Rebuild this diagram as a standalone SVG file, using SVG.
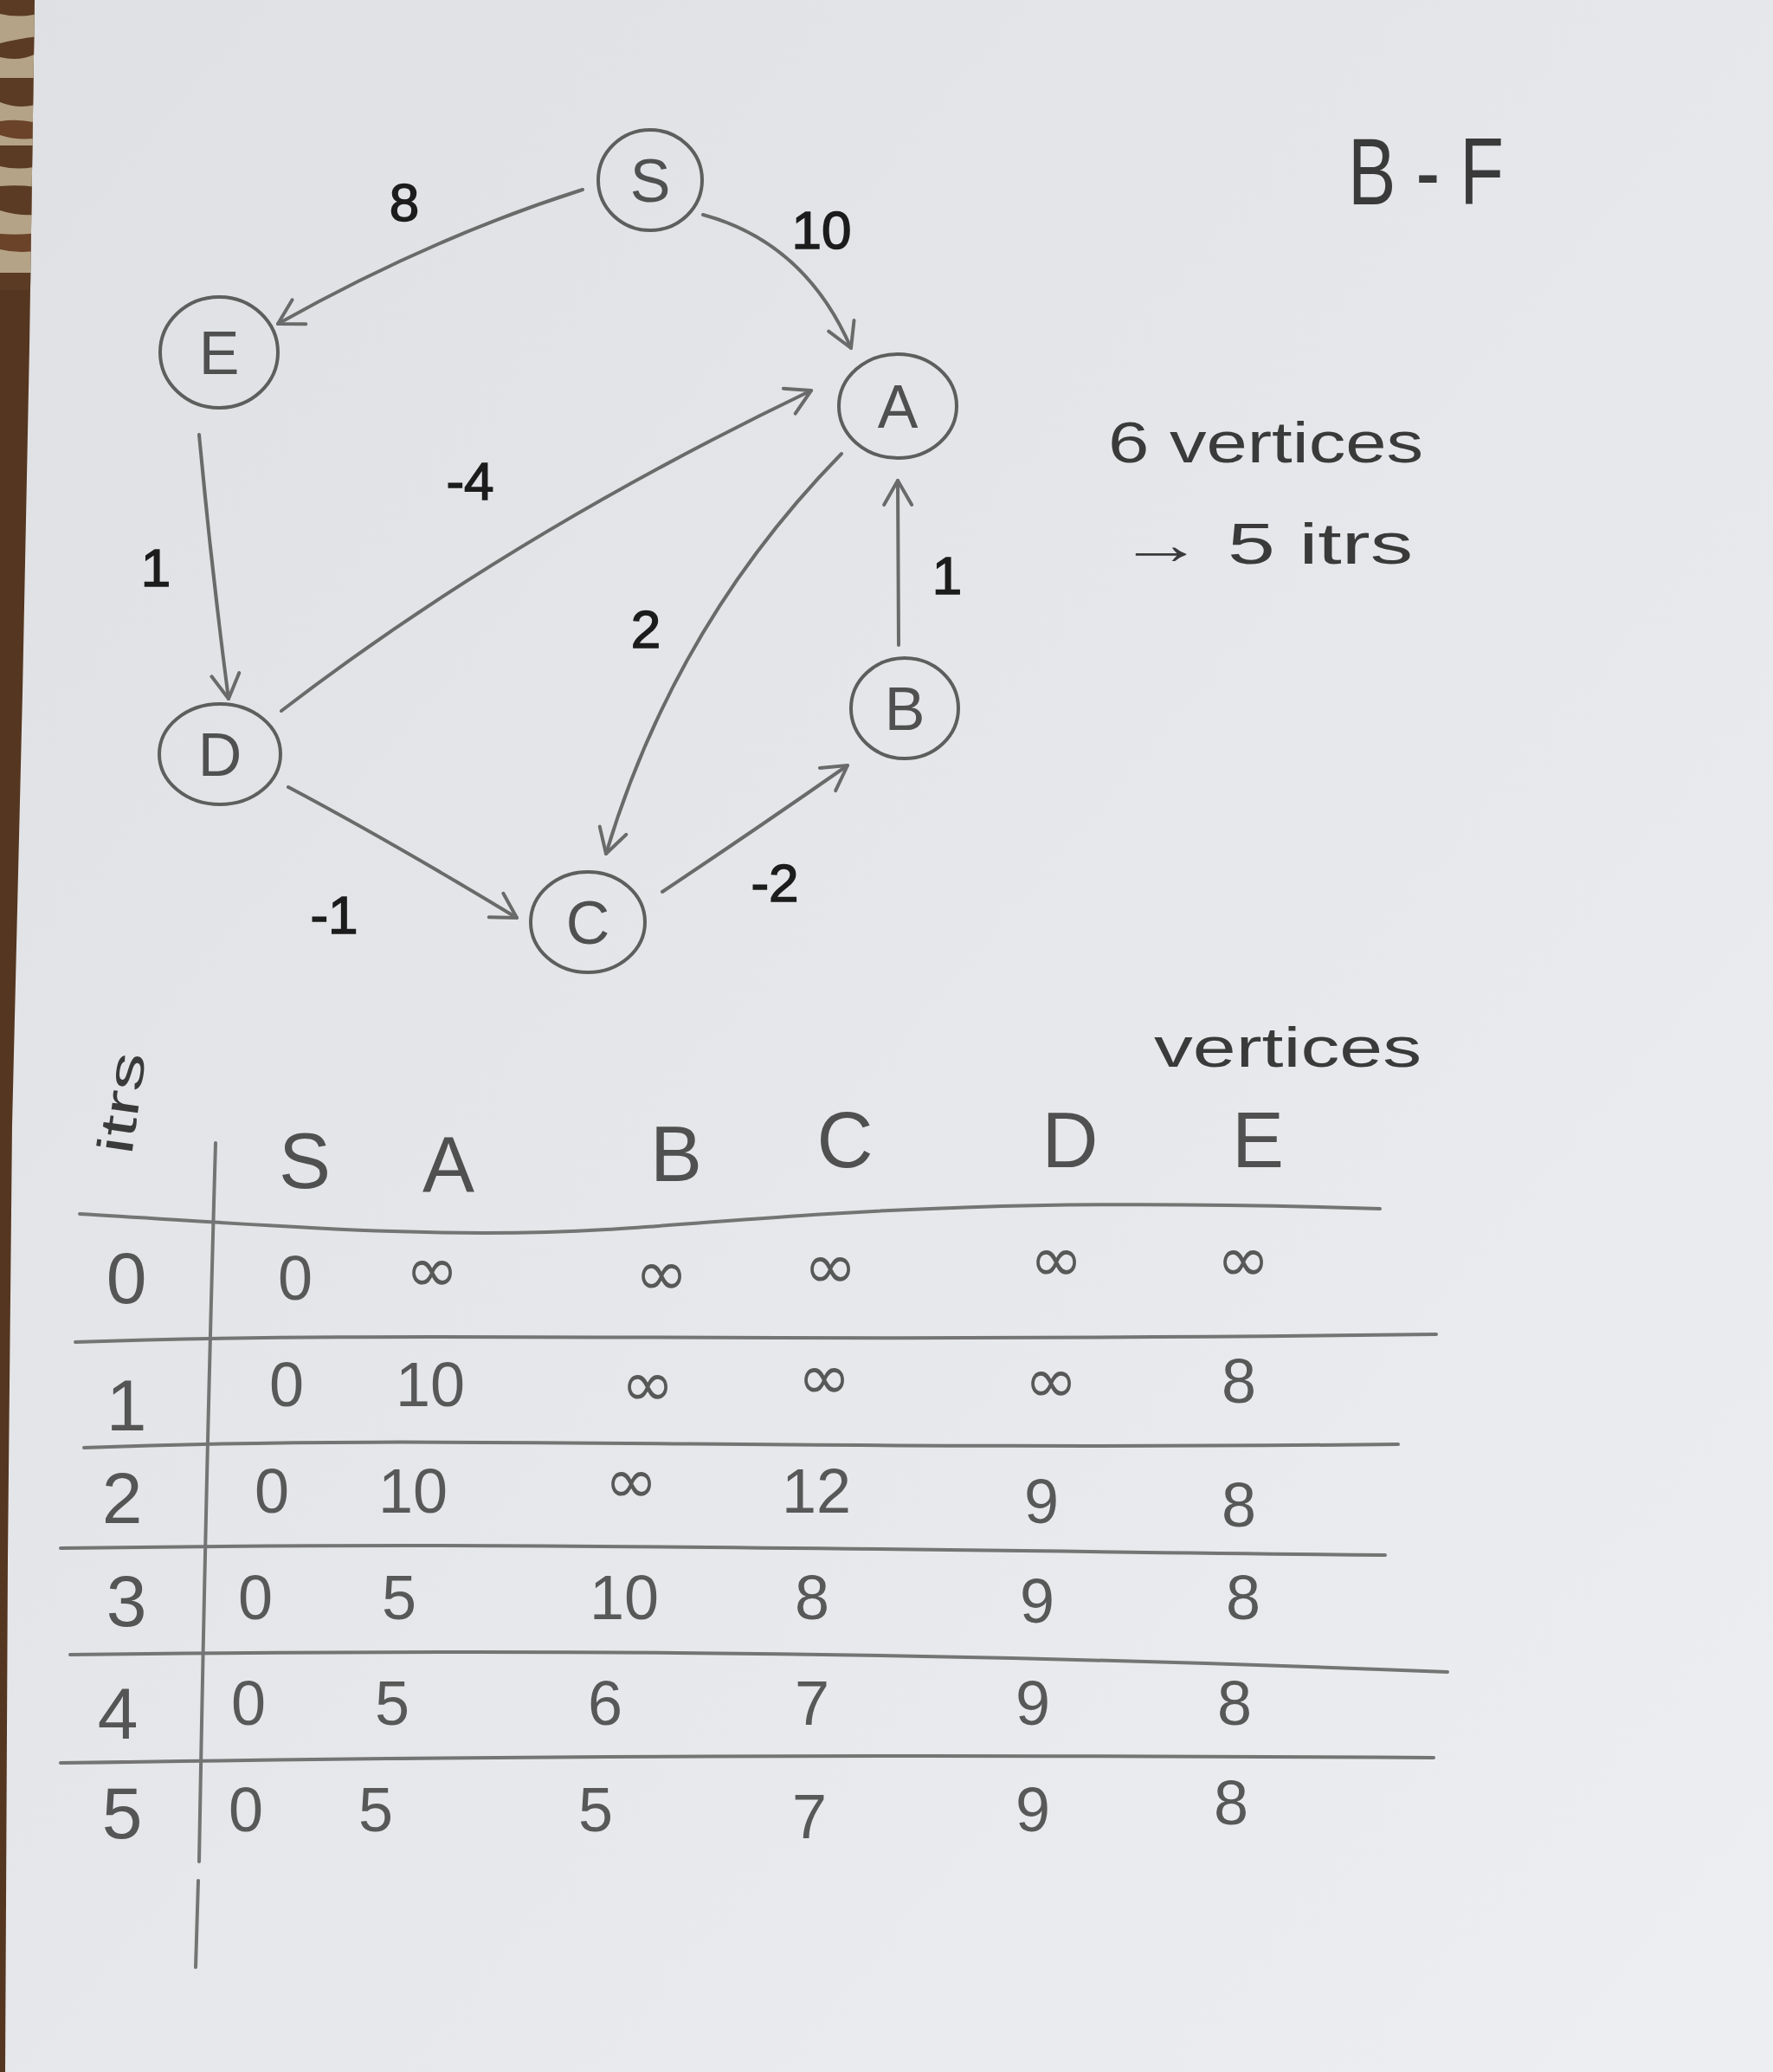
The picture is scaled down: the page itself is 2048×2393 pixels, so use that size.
<svg xmlns="http://www.w3.org/2000/svg" width="2048" height="2393" viewBox="0 0 2048 2393">
<style>
.node{fill:none;stroke:#5e5e5e;stroke-width:4}
.nl{font-family:"Liberation Sans",Arial,sans-serif;font-size:70px;fill:#505050;text-anchor:middle}
.edge{fill:none;stroke:#6a6a6a;stroke-width:4;stroke-linecap:round}
.w{font-family:"Liberation Sans",Arial,sans-serif;font-size:62px;fill:#1c1c1c;text-anchor:middle;stroke:#1c1c1c;stroke-width:1.5}
.note{font-family:"Liberation Sans",Arial,sans-serif;fill:#3a3a3a}
.rule{fill:none;stroke:#747474;stroke-width:4;stroke-linecap:round}
.hd{font-family:"Liberation Sans",Arial,sans-serif;font-size:90px;fill:#505050;text-anchor:middle}
.it{font-family:"Liberation Sans",Arial,sans-serif;font-size:84px;fill:#555;text-anchor:middle}
.v{font-family:"Liberation Sans",Arial,sans-serif;font-size:72px;fill:#585858;text-anchor:middle}
.inf{font-family:"DejaVu Sans",sans-serif;font-size:74px;fill:#585858;text-anchor:middle}
</style>
<defs>
<linearGradient id="paper" x1="0" y1="0" x2="1" y2="1">
<stop offset="0" stop-color="#dfe0e3"/>
<stop offset="1" stop-color="#eceef1"/>
</linearGradient>
<marker id="arr" markerUnits="userSpaceOnUse" markerWidth="60" markerHeight="60" viewBox="-40 -30 50 60" refX="0" refY="0" orient="auto">
<path d="M -28 -16 L 0 0 L -28 16" fill="none" stroke="#6a6a6a" stroke-width="4" stroke-linecap="round" stroke-linejoin="round"/>
</marker>
<clipPath id="stripclip"><polygon points="0,0 40,0 34,400 26,800 14,1300 9,1800 6,2393 0,2393"/></clipPath>
</defs>
<rect x="0" y="0" width="2048" height="2393" fill="url(#paper)"/>
<g id="table-edge" clip-path="url(#stripclip)">
<rect x="0" y="0" width="50" height="2393" fill="#553620"/>
<rect x="0" y="0" width="50" height="330" fill="#b4a386"/>
<path d="M0 0 h50 v14 q-25 8 -50 2 z" fill="#5b3b24"/>
<path d="M0 50 q25 -6 45 -8 v18 q-20 12 -45 6 z" fill="#5b3b24"/>
<path d="M0 90 h50 v28 q-25 10 -50 0 z" fill="#5b3b24"/>
<path d="M0 140 q25 -4 50 4 v14 q-25 6 -50 -2 z" fill="#6a4329"/>
<path d="M0 168 h50 v22 q-25 8 -50 2 z" fill="#5b3b24"/>
<path d="M0 215 q25 -2 50 2 v30 q-25 4 -50 -4 z" fill="#5b3b24"/>
<path d="M0 270 q25 2 50 -2 v20 q-25 6 -50 0 z" fill="#6a4329"/>
<path d="M0 315 h50 v20 h-50 z" fill="#5b3b24"/>
</g>
<g id="connectors">
<path class="edge" d="M 673 219 Q 497 275 321 374" marker-end="url(#arr)"/>
<path class="edge" d="M 812 248 Q 930 280 983 402" marker-end="url(#arr)"/>
<path class="edge" d="M 230 502 Q 244 655 264 807" marker-end="url(#arr)"/>
<path class="edge" d="M 325 821 Q 589 618 937 451" marker-end="url(#arr)"/>
<path class="edge" d="M 972 524 Q 780 720 700 986" marker-end="url(#arr)"/>
<path class="edge" d="M 1038 745 L 1037 555" marker-end="url(#arr)"/>
<path class="edge" d="M 333 909 Q 450 971 597 1060" marker-end="url(#arr)"/>
<path class="edge" d="M 765 1030 Q 870 960 979 884" marker-end="url(#arr)"/>
</g>
<g id="edge-labels">
<text class="w" x="467" y="255">8</text>
<text class="w" x="949" y="287">10</text>
<text class="w" x="543" y="577">-4</text>
<text class="w" x="180" y="677">1</text>
<text class="w" x="746" y="748">2</text>
<text class="w" x="1094" y="686">1</text>
<text class="w" x="386" y="1078">-1</text>
<text class="w" x="895" y="1041">-2</text>
</g>
<g id="node-S"><ellipse class="node" cx="751" cy="208" rx="60" ry="58"/><text class="nl" x="751" y="233">S</text></g>
<g id="node-E"><ellipse class="node" cx="253" cy="407" rx="68" ry="64"/><text class="nl" x="253" y="432">E</text></g>
<g id="node-A"><ellipse class="node" cx="1037" cy="469" rx="68" ry="60"/><text class="nl" x="1037" y="494">A</text></g>
<g id="node-B"><ellipse class="node" cx="1045" cy="818" rx="62" ry="58"/><text class="nl" x="1045" y="843">B</text></g>
<g id="node-D"><ellipse class="node" cx="254" cy="871" rx="70" ry="58"/><text class="nl" x="254" y="896">D</text></g>
<g id="node-C"><ellipse class="node" cx="679" cy="1065" rx="66" ry="58"/><text class="nl" x="679" y="1090">C</text></g>
<g id="notes">
<text class="note" x="1557" y="236" font-size="110" textLength="180" lengthAdjust="spacingAndGlyphs">B - F</text>
<text class="note" x="1280" y="534" font-size="66" textLength="364" lengthAdjust="spacingAndGlyphs">6 vertices</text>
<text class="note" x="1292" y="651" font-size="66" textLength="340" lengthAdjust="spacingAndGlyphs">→ 5 itrs</text>
<text class="note" x="1333" y="1232" font-size="64" fill="#4a4a4a" textLength="309" lengthAdjust="spacingAndGlyphs">vertices</text>
<text class="note" x="0" y="0" font-size="58" fill="#4a4a4a" transform="translate(152 1335) rotate(-82)" textLength="118" lengthAdjust="spacingAndGlyphs">itrs</text>
</g>
<g id="table">
<path class="rule" d="M 92 1402 C 300 1414, 500 1432, 700 1420 S 1100 1380, 1594 1396"/>
<path class="rule" d="M 87 1550 C 500 1536, 800 1552, 1659 1541"/>
<path class="rule" d="M 97 1672 C 500 1656, 900 1676, 1615 1668"/>
<path class="rule" d="M 70 1788 C 600 1780, 1000 1790, 1600 1796"/>
<path class="rule" d="M 81 1911 C 500 1906, 1000 1904, 1672 1931"/>
<path class="rule" d="M 70 2036 C 600 2028, 1000 2026, 1656 2030"/>
<path class="rule" d="M 249 1320 Q 238 1700 230 2150"/>
<path class="rule" d="M 229 2172 L 226 2272"/>
<text class="hd" x="352" y="1372">S</text>
<text class="hd" x="518" y="1376">A</text>
<text class="hd" x="781" y="1364">B</text>
<text class="hd" x="976" y="1348">C</text>
<text class="hd" x="1236" y="1348">D</text>
<text class="hd" x="1453" y="1348">E</text>
<text class="it" x="146" y="1505">0</text>
<text class="v" x="341" y="1501">0</text>
<text class="inf" x="499" y="1492" font-size="58">∞</text>
<text class="inf" x="764" y="1496" font-size="64">∞</text>
<text class="inf" x="959" y="1488" font-size="64">∞</text>
<text class="inf" x="1220" y="1480" font-size="84">∞</text>
<text class="inf" x="1436" y="1480" font-size="84">∞</text>
<text class="it" x="146" y="1652">1</text>
<text class="v" x="331" y="1624">0</text>
<text class="v" x="497" y="1624">10</text>
<text class="inf" x="748" y="1624">∞</text>
<text class="inf" x="952" y="1616">∞</text>
<text class="inf" x="1214" y="1620">∞</text>
<text class="v" x="1431" y="1620">8</text>
<text class="it" x="141" y="1759">2</text>
<text class="v" x="314" y="1747">0</text>
<text class="v" x="477" y="1747">10</text>
<text class="inf" x="729" y="1736">∞</text>
<text class="v" x="943" y="1747">12</text>
<text class="v" x="1203" y="1759">9</text>
<text class="v" x="1431" y="1763">8</text>
<text class="it" x="146" y="1878">3</text>
<text class="v" x="295" y="1870">0</text>
<text class="v" x="461" y="1870">5</text>
<text class="v" x="721" y="1870">10</text>
<text class="v" x="938" y="1870">8</text>
<text class="v" x="1198" y="1874">9</text>
<text class="v" x="1436" y="1870">8</text>
<text class="it" x="136" y="2008">4</text>
<text class="v" x="287" y="1992">0</text>
<text class="v" x="453" y="1992">5</text>
<text class="v" x="699" y="1992">6</text>
<text class="v" x="938" y="1992">7</text>
<text class="v" x="1193" y="1992">9</text>
<text class="v" x="1426" y="1992">8</text>
<text class="it" x="141" y="2123">5</text>
<text class="v" x="284" y="2115">0</text>
<text class="v" x="434" y="2115">5</text>
<text class="v" x="688" y="2115">5</text>
<text class="v" x="935" y="2123">7</text>
<text class="v" x="1193" y="2115">9</text>
<text class="v" x="1422" y="2107">8</text>
</g>
</svg>
